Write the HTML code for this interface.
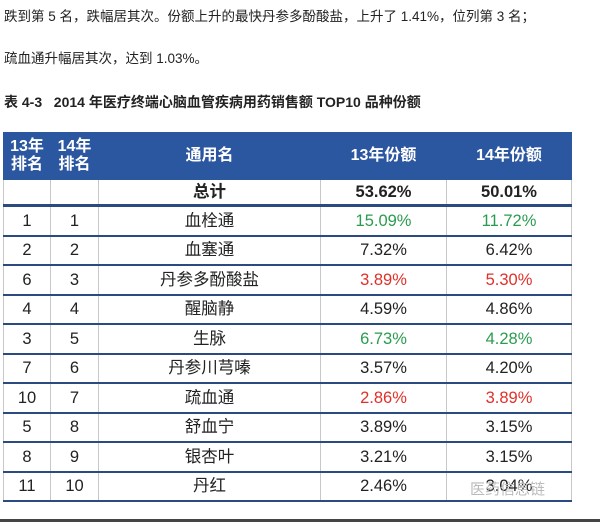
<!DOCTYPE html>
<html><head><meta charset="utf-8"><style>
body{margin:0;width:600px;height:522px;background:#fff;position:relative;overflow:hidden;font-family:"Liberation Sans","Noto Sans CJK SC",sans-serif;color:#222}
.t{position:absolute;left:4px;font-size:13.5px;white-space:nowrap}
table{position:absolute;left:3px;top:132px;border-collapse:collapse;table-layout:fixed;width:568px}
td,th{text-align:center;padding:0;font-size:16.5px;line-height:18px;border-left:1px solid #c8c8c8;border-right:1px solid #c8c8c8;vertical-align:middle}
th{background:#2b56a0;color:#fff;font-weight:bold;height:48px;font-size:16px;line-height:18px;border-color:#2b56a0}
tr.r td{height:27.5px;border-bottom:2px solid #2a4a80}
tr.tot td{height:24px;font-weight:bold;border-bottom:3px solid #2a4a80}
.g{color:#2a9c4f}.red{color:#e0302a}
</style></head><body>
<div class="t" style="top:5px">跌到第 5 名，跌幅居其次。份额上升的最快丹参多酚酸盐，上升了 1.41%，位列第 3 名；</div>
<div class="t" style="top:47px">疏血通升幅居其次，达到 1.03%。</div>
<div class="t" style="top:92px;font-weight:bold;font-size:14px">表 4-3&nbsp;&nbsp;&nbsp;2014 年医疗终端心脑血管疾病用药销售额 TOP10 品种份额</div>
<table>
<colgroup><col style="width:47px"><col style="width:48px"><col style="width:222px"><col style="width:126px"><col style="width:125px"></colgroup>
<tr><th>13年<br>排名</th><th>14年<br>排名</th><th>通用名</th><th>13年份额</th><th>14年份额</th></tr>
<tr class="tot"><td></td><td></td><td>总计</td><td>53.62%</td><td>50.01%</td></tr>
<tr class="r"><td>1</td><td>1</td><td>血栓通</td><td class="g">15.09%</td><td class="g">11.72%</td></tr>
<tr class="r"><td>2</td><td>2</td><td>血塞通</td><td>7.32%</td><td>6.42%</td></tr>
<tr class="r"><td>6</td><td>3</td><td>丹参多酚酸盐</td><td class="red">3.89%</td><td class="red">5.30%</td></tr>
<tr class="r"><td>4</td><td>4</td><td>醒脑静</td><td>4.59%</td><td>4.86%</td></tr>
<tr class="r"><td>3</td><td>5</td><td>生脉</td><td class="g">6.73%</td><td class="g">4.28%</td></tr>
<tr class="r"><td>7</td><td>6</td><td>丹参川芎嗪</td><td>3.57%</td><td>4.20%</td></tr>
<tr class="r"><td>10</td><td>7</td><td>疏血通</td><td class="red">2.86%</td><td class="red">3.89%</td></tr>
<tr class="r"><td>5</td><td>8</td><td>舒血宁</td><td>3.89%</td><td>3.15%</td></tr>
<tr class="r"><td>8</td><td>9</td><td>银杏叶</td><td>3.21%</td><td>3.15%</td></tr>
<tr class="r"><td>11</td><td>10</td><td>丹红</td><td>2.46%</td><td>3.04%</td></tr>
</table>
<div style="position:absolute;left:470px;top:478px;font-size:15px;color:#bbb">医药信息链</div>
<div style="position:absolute;left:0;top:519px;width:600px;height:3px;background:#444"></div>
</body></html>
